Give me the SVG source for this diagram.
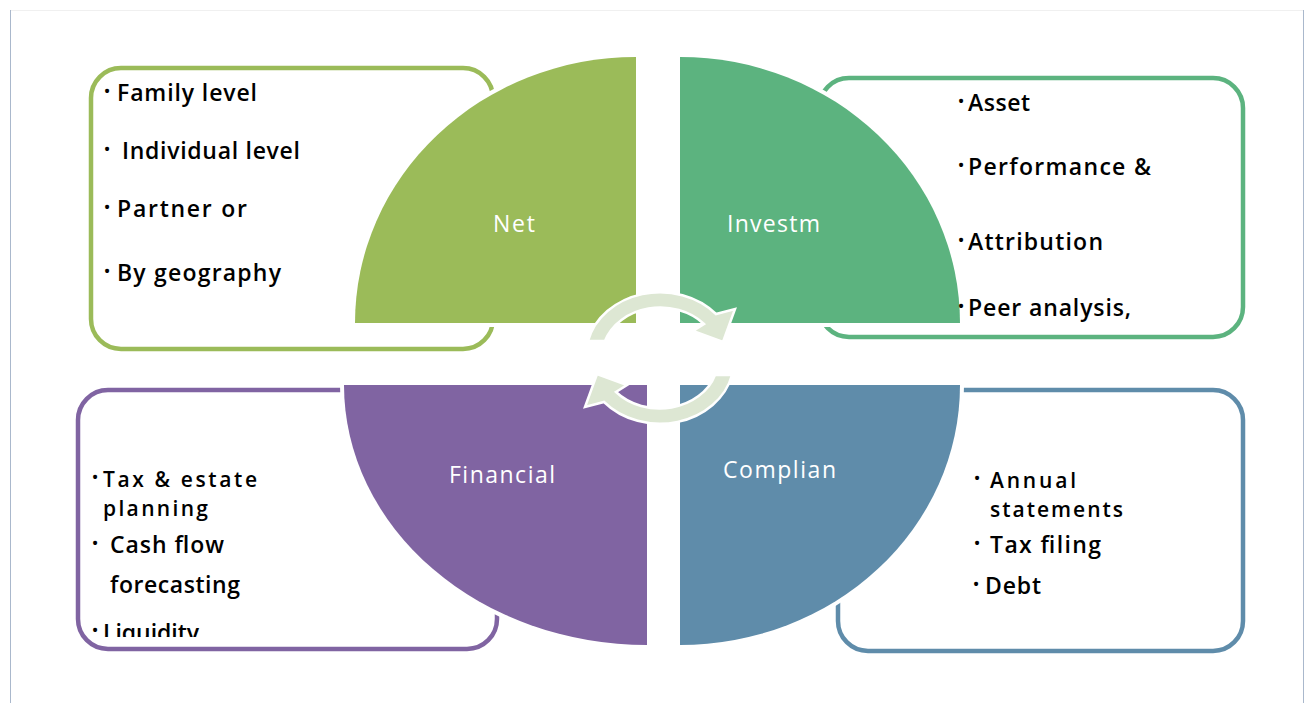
<svg xmlns="http://www.w3.org/2000/svg" width="1306" height="703" viewBox="0 0 1306 703">
<style>
.box{fill:#ffffff;stroke-width:4.5}
.q{stroke:#ffffff;stroke-width:8;paint-order:stroke}
.t{font-family:"Open Sans","Noto Sans","DejaVu Sans",sans-serif;font-weight:600;font-size:23px;fill:#000000}
.t2{font-family:"Open Sans","Noto Sans","DejaVu Sans",sans-serif;font-weight:600;font-size:21px;fill:#000000}
.b{font-family:"Open Sans","Noto Sans","DejaVu Sans",sans-serif;font-size:19px;fill:#000000;text-anchor:middle}
.lab{font-family:"Open Sans","Noto Sans","DejaVu Sans",sans-serif;font-weight:400;font-size:23px;fill:#ffffff}
.arr{fill:#dde7d3;stroke:#ffffff;stroke-width:2.5;stroke-linejoin:miter}
</style>
<defs>
<clipPath id="clipLiq"><rect x="80" y="600" width="300" height="37"/></clipPath>
</defs>
<rect x="0" y="0" width="1306" height="703" fill="#ffffff"/>
<g id="frame">
<line x1="10" y1="10.5" x2="1304" y2="10.5" stroke="#f0f0f0" stroke-width="1"/>
<line x1="10.5" y1="10" x2="10.5" y2="703" stroke="#aab8cc" stroke-width="1"/>
<line x1="1303.5" y1="10" x2="1303.5" y2="703" stroke="#aab8cc" stroke-width="1"/>
</g>
<g id="box-networth">
<rect class="box" x="91" y="68" width="402" height="281" rx="30" stroke="#9bbb59"/>
</g>
<g id="box-investment">
<rect class="box" x="819" y="78" width="424" height="259" rx="30" stroke="#5cb37f"/>
</g>
<g id="box-financial">
<rect class="box" x="78" y="390" width="419" height="259" rx="30" stroke="#8064a2"/>
</g>
<g id="box-compliance">
<rect class="box" x="838" y="390" width="405" height="261" rx="30" stroke="#5f8caa"/>
</g>
<g id="quad-networth">
<path class="q" d="M636,323 L355,323 A281,266 0 0 1 636,57 Z" fill="#9bbb59"/>
<text class="lab" x="493" y="232" textLength="42" lengthAdjust="spacing">Net</text>
</g>
<g id="quad-investment">
<path class="q" d="M680,323 L680,57 A280,266 0 0 1 960,323 Z" fill="#5cb37f"/>
<text class="lab" x="727" y="232" textLength="93" lengthAdjust="spacing">Investm</text>
</g>
<g id="quad-financial">
<path class="q" d="M647,385 L647,645 A303,260 0 0 1 344,385 Z" fill="#8064a2"/>
<text class="lab" x="449" y="483" textLength="106" lengthAdjust="spacing">Financial</text>
</g>
<g id="quad-compliance">
<path class="q" d="M680,385 L960,385 A280,260 0 0 1 680,645 Z" fill="#5f8caa"/>
<text class="lab" x="723" y="478" textLength="113" lengthAdjust="spacing">Complian</text>
</g>
<g id="connectors">
<path class="arr" d="M588,341 A74,63 0 0 1 716,314 L735,309 L723,342 L693,331 L704,324 A58,48 0 0 0 605,341 Z"/>
<path class="arr" transform="rotate(180 660 358)" d="M588,341 A74,63 0 0 1 716,314 L735,309 L723,342 L693,331 L704,324 A58,48 0 0 0 605,341 Z"/>
</g>
<g id="text-networth">
<text class="b" x="107" y="98">•</text><text class="t" x="117" y="101" textLength="140" lengthAdjust="spacing">Family level</text>
<text class="b" x="107" y="156">•</text><text class="t" x="122" y="159" textLength="178" lengthAdjust="spacing">Individual level</text>
<text class="b" x="107" y="214">•</text><text class="t" x="117" y="217" textLength="130" lengthAdjust="spacing">Partner or</text>
<text class="b" x="107" y="278">•</text><text class="t" x="117" y="281" textLength="164" lengthAdjust="spacing">By geography</text>
</g>
<g id="text-investment">
<text class="b" x="961" y="108">•</text><text class="t" x="968" y="111" textLength="62" lengthAdjust="spacing">Asset</text>
<text class="b" x="961" y="172">•</text><text class="t" x="968" y="175" textLength="183" lengthAdjust="spacing">Performance &amp;</text>
<text class="b" x="961" y="247">•</text><text class="t" x="968" y="250" textLength="135" lengthAdjust="spacing">Attribution</text>
<text class="b" x="961" y="313">•</text><text class="t" x="968" y="316" textLength="163" lengthAdjust="spacing">Peer analysis,</text>
</g>
<g id="text-financial">
<text class="b" x="95" y="484">•</text>
<text class="t2"><tspan x="103" y="487" textLength="154" lengthAdjust="spacing">Tax &amp; estate</tspan><tspan x="103" y="516" textLength="105" lengthAdjust="spacing">planning</tspan></text>
<text class="b" x="95" y="550">•</text><text class="t" x="110" y="553" textLength="114" lengthAdjust="spacing">Cash flow</text>
<text class="t" x="110" y="593" textLength="130" lengthAdjust="spacing">forecasting</text>
<g clip-path="url(#clipLiq)">
<text class="b" x="95" y="637">•</text><text class="t" x="103" y="641" textLength="96" lengthAdjust="spacing">Liquidity</text>
</g>
</g>
<g id="text-compliance">
<text class="b" x="977" y="485">•</text>
<text class="t2"><tspan x="990" y="488" textLength="86" lengthAdjust="spacing">Annual</tspan><tspan x="990" y="517" textLength="133" lengthAdjust="spacing">statements</tspan></text>
<text class="b" x="977" y="550">•</text><text class="t" x="990" y="553" textLength="111" lengthAdjust="spacing">Tax filing</text>
<text class="b" x="976" y="591">•</text><text class="t" x="985" y="594" textLength="56" lengthAdjust="spacing">Debt</text>
</g>
</svg>
